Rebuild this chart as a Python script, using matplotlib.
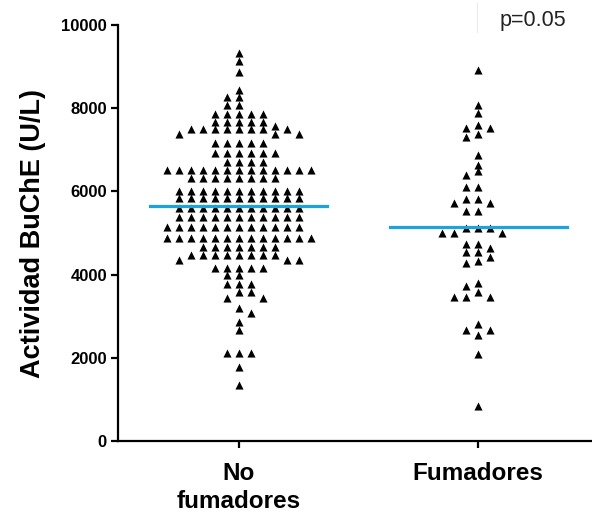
import matplotlib

matplotlib.use("Agg")
import matplotlib.pyplot as plt
import numpy as np

# Values (U/L)
categories = ["No\nfumadores", "Fumadores"]

no_fumadores = (
    [9330, 9135, 8870, 8440, 8270, 8270, 8080, 8080]
    + [7870] * 5 + [7680] * 5 + [7570] + [7500] * 8 + [7380] * 3
    + [7160] * 5 + [6920] * 6 + [6700] * 4 + [6510] * 13 + [6320] * 8
    + [6000] * 11 + [5840] * 11 + [5600] * 11 + [5385] * 11 + [5145] * 12
    + [4880] * 13 + [4665] * 7 + [4470] * 8 + [4350] * 3 + [4160] * 5
    + [3990] * 2 + [3780] * 3 + [3580] * 2 + [3440] * 2
    + [3200, 3080, 2860, 2670] + [2115] * 3 + [1780, 1350]
)

fumadores = (
    [8920, 8080, 7885, 7600, 7520, 7520, 7380, 7310, 6875, 6635, 6490, 6395]
    + [6105] * 2 + [5820] * 2 + [5720] * 2 + [5530] * 2 + [5120] * 3
    + [5000] * 3 + [4735] * 2 + [4640] + [4540] * 2 + [4420, 4330, 4280]
    + [3800, 3725, 3580] + [3460] * 3 + [2810] + [2670] * 2
    + [2550, 2090, 840]
)

group_means = [5650, 5150]

yticks = [0, 2000, 4000, 6000, 8000, 10000]

# pixel scale of the axes, used by the swarm layout
PX_PER_X = 240.0
PX_PER_Y = 41.6 / 1000.0
GAP_X = 11.7  # horizontal distance between neighbours (px)
GAP_Y = 6.0   # points closer than this vertically must not share a column


def swarm_offsets(values):
    """Greedy beeswarm with a box-shaped footprint around each triangle."""
    placed_x, placed_y = [], []
    offsets = []
    half = np.arange(1, 600) * 0.5
    for n, v in enumerate(values):
        y = v * PX_PER_Y
        sign = 1 if n % 2 == 0 else -1
        cands = np.concatenate([[0.0], np.column_stack([sign * half, -sign * half]).ravel()])
        px = np.array(placed_x)
        py = np.array(placed_y)
        near = np.abs(py - y) < GAP_Y if len(py) else np.zeros(0, bool)
        px = px[near]
        for dx in cands:
            if not np.any(np.abs(px - dx) < GAP_X - 1e-6):
                break
        placed_x.append(dx)
        placed_y.append(y)
        offsets.append(dx / PX_PER_X)
    return np.array(offsets)


plt.rcParams["font.family"] = ["Liberation Sans", "DejaVu Sans"]

fig = plt.figure(figsize=(5.92, 5.18), dpi=100)
ax = fig.add_axes([118 / 592, 77 / 518, 474 / 592, 416 / 518])

for i, vals in enumerate([no_fumadores, fumadores]):
    xs = i + swarm_offsets(vals)
    ax.scatter(xs, vals, marker="^", s=34, color="black", linewidths=0, zorder=3)
    ax.plot([i - 0.37, i + 0.37], [group_means[i]] * 2, color="#1ca3dd",
            linewidth=2.3, zorder=4)

ax.set_xlim(-0.504, 1.475)
ax.set_ylim(0, 10000)
ax.set_xticks([0, 1])
ax.set_xticklabels(categories, fontsize=17.5, fontweight="bold", linespacing=1.3)
ax.set_yticks(yticks)
ax.set_yticklabels([str(t) for t in yticks], fontsize=12, fontweight="bold")

for side in ["top", "right"]:
    ax.spines[side].set_visible(False)
for side in ["left", "bottom"]:
    ax.spines[side].set_linewidth(1.6)

ax.tick_params(axis="both", direction="out", length=5, width=1.6, pad=3)
ax.tick_params(axis="x", pad=10)

ax.set_ylabel("Actividad BuChE (U/L)", fontsize=19.5, fontweight="bold", labelpad=11)

fig.text(500 / 592, 1 - 26 / 518, "p=0.05", fontsize=15.5, va="baseline", ha="left",
         color="#222222")
fig.add_artist(plt.Line2D([477 / 592, 477 / 592], [1 - 32 / 518, 1 - 3 / 518],
                          color="#ececec", linewidth=0.8))

fig.savefig("out.png", dpi=100)
